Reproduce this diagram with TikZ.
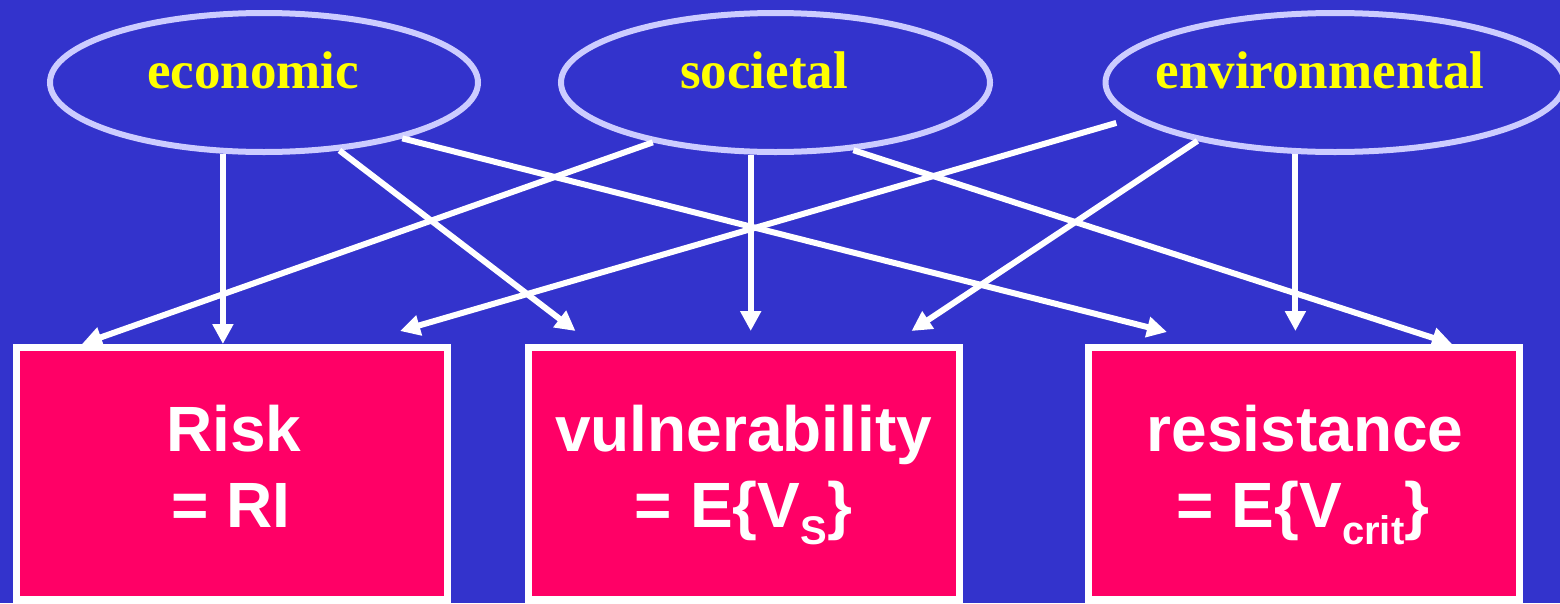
\documentclass[tikz,border=0pt]{standalone}
\usepackage{fontspec}
\setmainfont{Liberation Serif}
\newfontfamily\boxfont{Liberation Sans}
\usetikzlibrary{shapes.geometric,arrows.meta}
\definecolor{bgblue}{HTML}{3333CC}
\definecolor{ellline}{HTML}{CCCCFF}
\definecolor{boxpink}{HTML}{FF0066}
\definecolor{txtyellow}{HTML}{FFFF00}
\newcommand\lowsub[1]{\raisebox{-17pt}{\fontsize{40}{44}\selectfont #1}}
\tikzset{
  ell/.style={ellipse, draw=ellline, line width=6pt, fill=bgblue, inner sep=0pt, minimum height=139pt},
  elltext/.style={text=txtyellow, font=\fontsize{53}{60}\selectfont\bfseries, inner sep=0pt, anchor=base},
  bx/.style={rectangle, draw=white, line width=7pt, fill=boxpink, inner sep=0pt, minimum width=431pt, minimum height=252pt},
  bxtext/.style={text=white, font=\boxfont\fontsize{64}{70}\selectfont\bfseries, inner sep=0pt, anchor=base},
  arr/.style={draw=white, line width=6pt, -{Triangle[length=20pt,width=20pt]}}
}
\begin{document}
\begin{tikzpicture}[x=1pt,y=-1pt]
\fill[bgblue] (0,0) rectangle (1560,603);
\useasboundingbox (0,0) rectangle (1560,603);
\clip (0,0) rectangle (1560,603);
% ellipses
\node[ell, minimum width=428pt] (eco) at (264,82.5) {};
\node[ell, minimum width=429pt] (soc) at (775.5,82.5) {};
\node[ell, minimum width=459pt] (env) at (1335,82.5) {};
\node[elltext] (ecoT) at (253,88) {economic};
\node[elltext] (socT) at (764,88) {societal};
\node[elltext] (envT) at (1320,88) {environmental};
% boxes
\node[bx] (risk) at (232,473.5) {};
\node[bx] (vul) at (743.5,473.5) {};
\node[bx] (res) at (1304,473.5) {};
\node[bxtext] (riskA) at (234,451) {Risk};
\node[bxtext] (riskB) at (231,527) {= RI};
\node[bxtext] (vulA) at (743.5,451) {vulnerability};
\node[bxtext] (vulB) at (743.5,527) {= E\{V\lowsub{S}\}};
\node[bxtext] (resA) at (1305,451) {resistance};
\node[bxtext] (resB) at (1303,527) {= E\{V\lowsub{crit}\}};
% connectors
\draw[arr] (eco.240) -- (eco.240 |- risk.north);
\draw[arr] (eco.318) -- ([xshift=51pt,yshift=13pt]vul.north west);
\draw[arr] (eco.338) -- ([xshift=82pt,yshift=12pt]res.north west);
\draw[arr] (soc.206) -- ([xshift=69pt]risk.north west);
\draw[arr, shorten >=13pt] (soc.251) -- (soc.251 |- vul.north);
\draw[arr] (soc.319) -- ([xshift=367pt]res.north west);
\draw[arr, shorten <=17pt] (env.190) -- ([xshift=387pt,yshift=13pt]risk.north west);
\draw[arr] (env.203) -- ([xshift=387pt,yshift=13pt]vul.north west);
\draw[arr, shorten >=13pt] (env.241) -- (env.241 |- res.north);
\end{tikzpicture}
\end{document}
